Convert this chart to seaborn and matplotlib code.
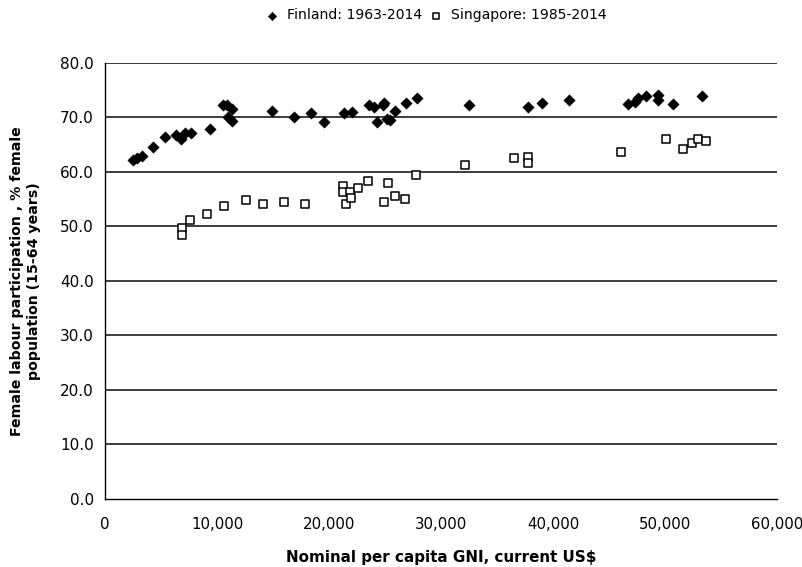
import matplotlib
matplotlib.use("Agg")
import matplotlib.pyplot as plt
import seaborn as sns
import pandas as pd

# Finland, 1963-2014: GNI per capita (current US$) vs female labour participation (%)
finland_gni = [2530, 2830, 3270, 4260, 5390, 6340, 6790, 7170, 7680, 9400,
               10510, 10860, 11310, 11010, 11310, 14880, 16880, 18420, 19530,
               21340, 22020, 23600, 24040, 24850, 24940, 24250, 25140, 25450,
               25890, 26870, 27860, 32530, 37770, 38990, 41400, 46670, 47320,
               47560, 48300, 49350, 49350, 50740, 53280]
finland_flp = [62.2, 62.6, 63.0, 64.6, 66.4, 66.7, 66.1, 67.2, 67.2, 67.9,
               72.2, 72.2, 71.5, 70.1, 69.4, 71.2, 70.0, 70.8, 69.2,
               70.8, 71.0, 72.2, 72.0, 72.3, 72.6, 69.2, 69.7, 69.5,
               71.2, 72.7, 73.5, 72.2, 72.0, 72.7, 73.2, 72.4, 72.8,
               73.5, 74.0, 74.1, 73.2, 72.5, 74.0]

# Singapore, 1985-2014
singapore_gni = [6840, 6840, 7590, 9140, 10630, 12560, 14140, 16010, 17860,
                 21220, 21280, 21480, 21880, 21960, 22620, 23450, 24910, 25300,
                 25890, 26790, 27740, 32140, 36520, 37770, 37770, 46070, 50090,
                 51580, 52380, 52920, 53630]
singapore_flp = [49.7, 48.4, 51.1, 52.2, 53.7, 54.9, 54.1, 54.4, 54.1,
                 57.4, 56.4, 54.1, 56.4, 55.3, 57.1, 58.4, 54.4, 57.9,
                 55.6, 55.1, 59.4, 61.2, 62.5, 62.8, 61.6, 63.7, 66.0,
                 64.2, 65.3, 66.0, 65.7]

finland_label = "Finland: 1963-2014"
singapore_label = "Singapore: 1985-2014"
x_ticks = [0, 10000, 20000, 30000, 40000, 50000, 60000]
y_ticks = [0, 10, 20, 30, 40, 50, 60, 70, 80]

sns.set_theme(style="white")
plt.rcParams["font.family"] = ["DejaVu Sans"]
plt.rcParams["text.color"] = "black"
plt.rcParams["axes.labelcolor"] = "black"

fig = plt.figure(figsize=(8.02, 5.67), dpi=100)
ax = fig.add_axes([0.131, 0.12, 0.838, 0.769])

fin = pd.DataFrame({"gni": finland_gni, "flp": finland_flp})
sgp = pd.DataFrame({"gni": singapore_gni, "flp": singapore_flp})

for y in y_ticks[1:]:
    ax.axhline(y, color="#3c3c3c", linewidth=1.4, zorder=0)

sns.scatterplot(data=fin, x="gni", y="flp", ax=ax, marker="D", s=34,
                color="black", edgecolor="black", linewidth=0.3,
                label=finland_label, zorder=3)
sns.scatterplot(data=sgp, x="gni", y="flp", ax=ax, marker="s", s=30,
                facecolor="white", edgecolor="black", linewidth=1.1,
                label=singapore_label, zorder=3)

ax.set_xlim(0, 60000)
ax.set_ylim(0, 80)
ax.set_xticks(x_ticks)
ax.set_xticklabels([f"{v:,}" for v in x_ticks])
ax.set_yticks(y_ticks)
ax.set_yticklabels([f"{v:.1f}" for v in y_ticks])
ax.tick_params(axis="both", direction="out", length=5, width=1,
               color="black", labelsize=11, labelcolor="black")
ax.tick_params(axis="x", pad=8, labelsize=10.8)
ax.tick_params(axis="y", pad=3)

for side in ["top", "right"]:
    ax.spines[side].set_visible(False)
for side in ["left", "bottom"]:
    ax.spines[side].set_color("black")
    ax.spines[side].set_linewidth(1.0)

ax.set_xlabel("Nominal per capita GNI, current US$", fontsize=10.9,
              fontweight="bold", labelpad=13)
ax.set_ylabel("Female labour participation , % female\npopulation (15-64 years)",
              fontsize=10.2, fontweight="bold", labelpad=14, linespacing=1.2)

ax.legend(loc="center", bbox_to_anchor=(0.539, 0.973), bbox_transform=fig.transFigure,
          ncol=2, frameon=False, fontsize=10.1, handletextpad=0.05,
          columnspacing=0.0, markerscale=0.75, borderaxespad=0.0)

fig.savefig("out.png", dpi=100)
